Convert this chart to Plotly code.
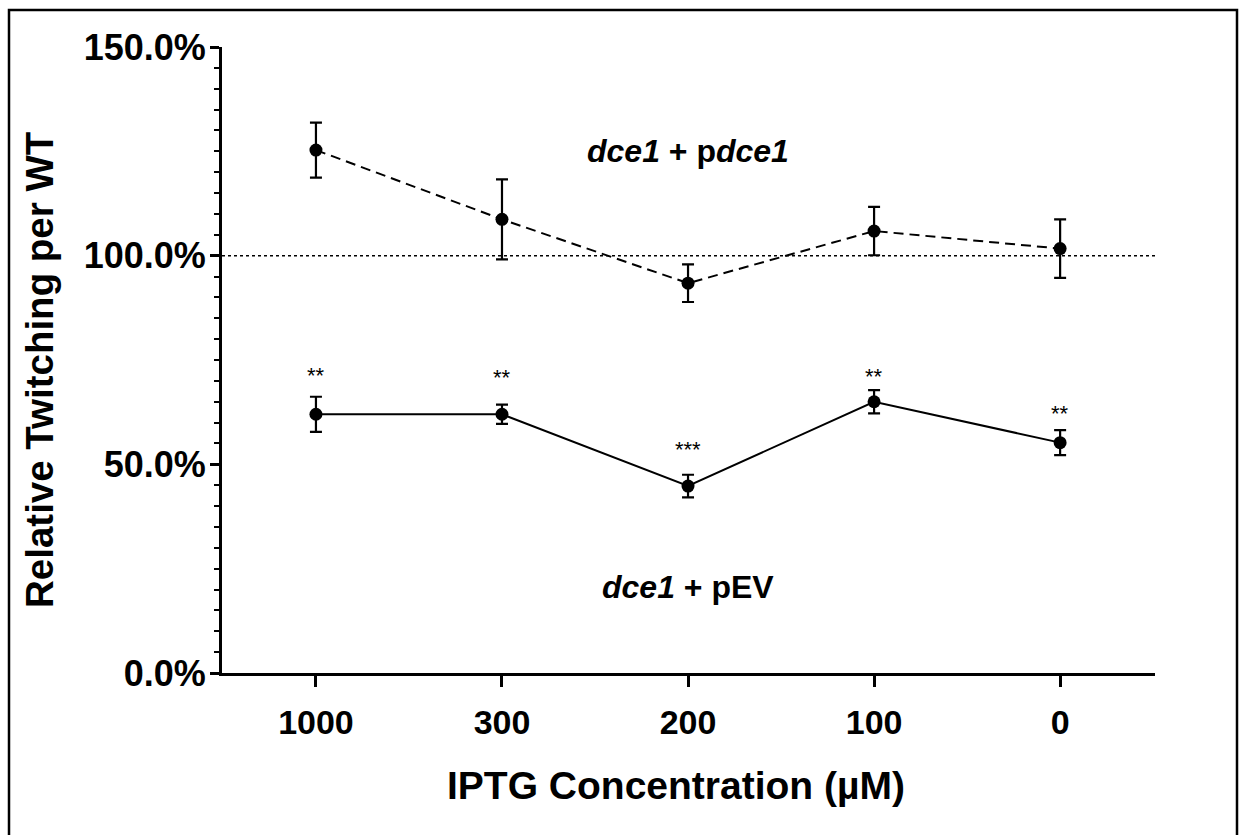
import plotly.graph_objects as go

# IPTG concentrations (µM), shown as ordered categories
concentrations = ["1000", "300", "200", "100", "0"]

# dce1 + pdce1 (complemented strain), relative twitching in %
pdce1_mean = [125.3, 108.7, 93.4, 105.9, 101.7]
pdce1_sem = [6.6, 9.6, 4.5, 5.8, 7.0]

# dce1 + pEV (empty vector control), relative twitching in %
pev_mean = [62.0, 62.0, 44.8, 65.0, 55.2]
pev_sem = [4.2, 2.3, 2.7, 2.8, 3.0]

# significance marks above the pEV points and their heights (%)
pev_sig = ["**", "**", "***", "**", "**"]
pev_sig_y = [72.7, 72.3, 55.0, 72.5, 63.6]

y_ticks = [0, 50, 100, 150]
y_tick_text = ["0.0%", "50.0%", "100.0%", "150.0%"]
wt_level = 100

xpos = list(range(len(concentrations)))

FONT = "Liberation Sans, Arial, sans-serif"

# plot area in pixels (page 1247x835)
L, R, T, B = 222, 1155, 47, 673
W, H = 1247, 835


def px_to_paper_x(px):
    return (px - L) / (R - L)


def px_to_paper_y(py):
    return (B - py) / (B - T)


fig = go.Figure()

fig.add_trace(go.Scatter(
    x=xpos, y=pdce1_mean,
    mode="lines+markers",
    line=dict(color="black", width=2, dash="10px,6px"),
    marker=dict(color="black", size=13),
    error_y=dict(type="data", array=pdce1_sem, color="black", thickness=2.2, width=6),
    showlegend=False,
))

fig.add_trace(go.Scatter(
    x=xpos, y=pev_mean,
    mode="lines+markers",
    line=dict(color="black", width=2),
    marker=dict(color="black", size=13),
    error_y=dict(type="data", array=pev_sem, color="black", thickness=2.2, width=6),
    showlegend=False,
))

# WT reference level
fig.add_shape(type="line", xref="paper", yref="y", x0=0, x1=1, y0=wt_level, y1=wt_level,
              line=dict(color="black", width=1.5, dash="dot"), layer="below")

annotations = []
for x, s, y in zip(xpos, pev_sig, pev_sig_y):
    annotations.append(dict(x=x, y=y, text=s, showarrow=False, xref="x", yref="y",
                            yshift=-6, font=dict(family=FONT, size=22, color="black")))

annotations.append(dict(x=2, y=125.1, xref="x", yref="y", showarrow=False,
                        text="<b><i>dce1</i> + p<i>dce1</i></b>",
                        font=dict(family=FONT, size=32, color="black")))
annotations.append(dict(x=2, y=20.6, xref="x", yref="y", showarrow=False,
                        text="<b><i>dce1</i> + pEV</b>",
                        font=dict(family=FONT, size=32, color="black")))

# axis titles
annotations.append(dict(x=px_to_paper_x(676), y=px_to_paper_y(785), xref="paper", yref="paper",
                        xanchor="center", yanchor="middle",
                        showarrow=False, text="<b>IPTG Concentration (µM)</b>",
                        font=dict(family=FONT, size=39, color="black")))
annotations.append(dict(x=px_to_paper_x(39), y=px_to_paper_y(370), xref="paper", yref="paper",
                        xanchor="center", yanchor="middle",
                        showarrow=False, textangle=-90, text="<b>Relative Twitching per WT</b>",
                        font=dict(family=FONT, size=38.5, color="black")))

fig.update_layout(
    width=W, height=H,
    margin=dict(l=L, r=W - R, t=T, b=H - B),
    paper_bgcolor="white", plot_bgcolor="white",
    annotations=annotations,
    shapes=list(fig.layout.shapes) + [
        dict(type="rect", xref="paper", yref="paper",
             x0=px_to_paper_x(9), x1=px_to_paper_x(1237),
             y0=px_to_paper_y(845), y1=px_to_paper_y(10),
             line=dict(color="black", width=2.5), fillcolor="rgba(0,0,0,0)", layer="below"),
    ],
)

fig.update_xaxes(
    range=[-0.505, 4.51], tickvals=xpos, ticktext=concentrations,
    showgrid=False, zeroline=False, showline=True, linecolor="black", linewidth=3,
    ticks="outside", ticklen=11, tickwidth=2.5, tickcolor="black", ticklabelstandoff=6,
    tickfont=dict(family=FONT, size=34, color="black", weight="bold"),
)

fig.update_yaxes(
    range=[0, 150], tickvals=y_ticks, ticktext=y_tick_text,
    showgrid=False, zeroline=False, showline=True, linecolor="black", linewidth=3,
    ticks="outside", ticklen=9, tickwidth=2.5, tickcolor="black", ticklabelstandoff=-3,
    tickfont=dict(family=FONT, size=36, color="black", weight="bold"),
    minor=dict(dtick=5, ticks="outside", ticklen=5, tickwidth=2, tickcolor="black", showgrid=False),
)

fig.write_html("out.html")
